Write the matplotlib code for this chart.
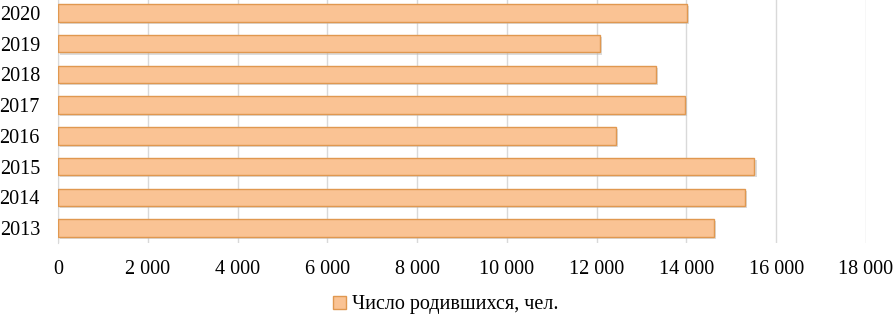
import matplotlib
matplotlib.use("Agg")
import matplotlib.pyplot as plt
from matplotlib.patches import Patch
import matplotlib.patheffects as pe

plt.rcParams['font.family'] = ['Liberation Serif', 'DejaVu Serif']

years = ['2013', '2014', '2015', '2016', '2017', '2018', '2019', '2020']
births = [14620, 15310, 15515, 12435, 13970, 13325, 12080, 14005]
series_name = 'Число родившихся, чел.'
xticks = [0, 2000, 4000, 6000, 8000, 10000, 12000, 14000, 16000, 18000]
xtick_labels = ['0', '2 000', '4 000', '6 000', '8 000', '10 000', '12 000', '14 000', '16 000', '18 000']

fig = plt.figure(figsize=(8.94, 3.19), dpi=100)
ax = fig.add_axes([58/894, 1-243.4/319, (866-58)/894, 245.8/319])

face = '#FAC394'
edge = '#E09850'
bars = ax.barh(range(len(years)), births, height=0.57, color=face, edgecolor=edge,
               linewidth=1.0, zorder=3)
for b in bars:
    b.set_path_effects([pe.SimplePatchShadow(offset=(1.5, -1.5), shadow_rgbFace='#bbbbbb', alpha=0.5),
                        pe.Normal()])

ax.set_xlim(0, 18000)
ax.set_ylim(-0.5, 7.5)
ax.set_yticks(range(len(years)))
ax.set_yticklabels(years, fontsize=14.5)
ax.set_xticks(xticks)
ax.set_xticklabels(xtick_labels, fontsize=14.5)
ax.tick_params(axis='both', length=0)
ax.tick_params(axis='y', pad=13)
ax.tick_params(axis='x', pad=12)
ax.grid(axis='x', color='#D9D9D9', linewidth=1.0, zorder=0)
for s in ['top', 'right', 'bottom']:
    ax.spines[s].set_visible(False)
ax.spines['left'].set_color('#D9D9D9')

handle = Patch(facecolor=face, edgecolor=edge, linewidth=1.0)
fig.legend([handle], [series_name], loc='center', bbox_to_anchor=(446/894, 1-305/319),
           frameon=False, fontsize=14.5, handlelength=0.65, handleheight=0.65,
           handletextpad=0.3)

fig.savefig('out.png', dpi=100)
